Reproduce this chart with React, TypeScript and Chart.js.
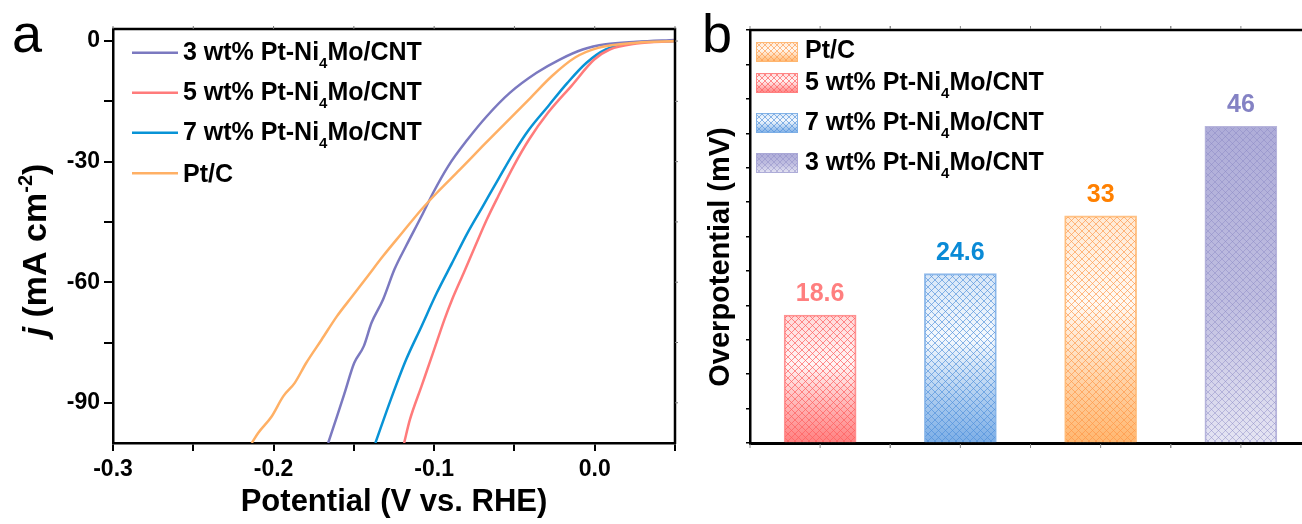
import React, { useEffect, useRef } from "react";
import { Chart, registerables } from "chart.js";

Chart.register(...registerables);

const FONT = "'Liberation Sans', Arial, Helvetica, sans-serif";

// ---------------- Panel a: polarization curves ----------------
const seriesLabels = ["3 wt% Pt-Ni4Mo/CNT", "5 wt% Pt-Ni4Mo/CNT", "7 wt% Pt-Ni4Mo/CNT", "Pt/C"];

const potential3wt = [-0.166, -0.1605, -0.1558, -0.1498, -0.1438, -0.139, -0.1318, -0.1247, -0.1175, -0.1079, -0.1007, -0.0912, -0.0792, -0.0672, -0.0529, -0.0362, -0.0218, -0.0075, 0.0069, 0.026, 0.05];
const current3wt = [-100, -93.4, -87.6, -80.1, -75.9, -70.1, -64.3, -56.8, -51.0, -43.6, -37.8, -31.1, -24.5, -18.7, -12.9, -7.9, -4.6, -2.1, -0.8, -0.2, 0.25];

const potential5wt = [-0.1187, -0.1151, -0.1079, -0.1007, -0.0936, -0.0888, -0.0816, -0.0744, -0.0672, -0.0601, -0.0505, -0.0409, -0.029, -0.0146, -0.0003, 0.0093, 0.026, 0.05];
const current5wt = [-100, -94.2, -85.9, -77.6, -69.3, -64.3, -57.7, -51.0, -44.4, -38.6, -31.1, -24.5, -17.8, -11.2, -4.6, -2.1, -0.6, 0];

const potential7wt = [-0.1366, -0.127, -0.1175, -0.1079, -0.0984, -0.0888, -0.0792, -0.0697, -0.0601, -0.0505, -0.0409, -0.029, -0.017, -0.0051, 0.0069, 0.026, 0.05];
const current7wt = [-100, -89.2, -79.3, -71.0, -62.7, -55.2, -47.7, -41.1, -34.4, -27.8, -22.0, -16.2, -10.4, -5.4, -2.1, -0.4, 0];

const potentialPtC = [-0.2136, -0.2096, -0.2012, -0.194, -0.1869, -0.1797, -0.1701, -0.1606, -0.151, -0.1414, -0.1318, -0.1199, -0.1079, -0.0984, -0.084, -0.0697, -0.0553, -0.0409, -0.0266, -0.0122, 0.0021, 0.026, 0.05];
const currentPtC = [-100, -97.5, -93.4, -88.4, -85.1, -80.1, -74.3, -68.5, -63.5, -58.5, -53.5, -47.7, -41.9, -37.8, -32.0, -26.1, -20.3, -14.5, -8.7, -4.1, -1.7, -0.4, 0];

const xTicksA = [-0.3, -0.25, -0.2, -0.15, -0.1, -0.05, 0, 0.05];
const xTickLabelsA = ["-0.3", "", "-0.2", "", "-0.1", "", "0.0", ""];
const yTicksA = [-90, -75, -60, -45, -30, -15, 0];
const yTickLabelsA = ["-90", "", "-60", "", "-30", "", "0"];

// ---------------- Panel b: overpotential bars ----------------
const barCategories = ["5 wt% Pt-Ni4Mo/CNT", "7 wt% Pt-Ni4Mo/CNT", "Pt/C", "3 wt% Pt-Ni4Mo/CNT"];
const barValues = [18.6, 24.6, 33, 46];
const barValueLabels = ["18.6", "24.6", "33", "46"];
const legendOrderB = [2, 0, 1, 3];
const yTicksB = [0, 5, 10, 15, 20, 25, 30, 35, 40, 45, 50, 55, 60];

// ---------------- styles ----------------
const lineColors = ["#7b79c0", "#ff7b7b", "#0893d6", "#ffb065"];
const barRGB = [
  [255, 128, 128],
  [124, 174, 230],
  [255, 183, 112],
  [170, 168, 214],
];
const hatchColors = ["rgba(255,95,95,0.7)", "rgba(80,145,220,0.65)", "rgba(255,150,70,0.65)", "rgba(135,132,195,0.45)"];
const valueLabelColors = ["#ff7f7f", "#0a8ad6", "#ff8000", "#8482c4"];
const normalStops = [
  [0, 0.3],
  [0.38, 0.08],
  [0.75, 0.65],
  [1, 1],
];
const reversedStops = [
  [0, 0.95],
  [0.55, 0.75],
  [1, 0.3],
];

function rgba(c: number[], a: number) {
  return `rgba(${c[0]},${c[1]},${c[2]},${a})`;
}

function makeGradient(ctx: CanvasRenderingContext2D, i: number, yTop: number, yBot: number) {
  const g = ctx.createLinearGradient(0, yTop, 0, yBot);
  const stops = i === 3 ? reversedStops : normalStops;
  for (const [p, a] of stops) g.addColorStop(p, rgba(barRGB[i], a));
  return g;
}

function hatch(ctx: CanvasRenderingContext2D, x0: number, y0: number, w: number, h: number, color: string, step = 7) {
  ctx.save();
  ctx.beginPath();
  ctx.rect(x0, y0, w, h);
  ctx.clip();
  ctx.strokeStyle = color;
  ctx.lineWidth = 1;
  ctx.beginPath();
  let kmin = Math.floor((x0 - (y0 + h)) / step) * step;
  let kmax = x0 + w - y0;
  for (let k = kmin; k <= kmax; k += step) {
    ctx.moveTo(k + y0, y0);
    ctx.lineTo(k + y0 + h, y0 + h);
  }
  kmin = Math.floor((x0 + y0) / step) * step;
  kmax = x0 + w + y0 + h;
  for (let k = kmin; k <= kmax; k += step) {
    ctx.moveTo(k - y0, y0);
    ctx.lineTo(k - y0 - h, y0 + h);
  }
  ctx.stroke();
  ctx.restore();
}

type Part = { t: string; italic?: boolean; sub?: boolean; sup?: boolean };

function richParts(label: string): Part[] {
  const i = label.indexOf("Ni4");
  if (i < 0) return [{ t: label }];
  return [{ t: label.slice(0, i + 2) }, { t: "4", sub: true }, { t: label.slice(i + 3) }];
}

function fontFor(p: Part, size: number) {
  const s = p.sub || p.sup ? Math.round(size * 0.6) : size;
  return `${p.italic ? "italic " : ""}bold ${s}px ${FONT}`;
}

function drawRich(ctx: CanvasRenderingContext2D, parts: Part[], x: number, y: number, size: number, align: "left" | "center") {
  ctx.save();
  ctx.textAlign = "left";
  ctx.textBaseline = "alphabetic";
  const widths = parts.map((p) => {
    ctx.font = fontFor(p, size);
    return ctx.measureText(p.t).width;
  });
  const total = widths.reduce((a, b) => a + b, 0);
  let cx = align === "center" ? x - total / 2 : x;
  parts.forEach((p, i) => {
    ctx.font = fontFor(p, size);
    const dy = p.sub ? size * 0.3 : p.sup ? -size * 0.42 : 0;
    ctx.fillText(p.t, cx, y + dy);
    cx += widths[i];
  });
  ctx.restore();
}

// ---------------- plugins ----------------
const decorA = {
  id: "decorA",
  afterDraw(chart: any) {
    const ctx: CanvasRenderingContext2D = chart.ctx;
    const ca = chart.chartArea;
    ctx.save();
    // top & right frame
    ctx.strokeStyle = "#000";
    ctx.lineWidth = 2.5;
    ctx.beginPath();
    ctx.moveTo(ca.left - 1, ca.top);
    ctx.lineTo(ca.right, ca.top);
    ctx.lineTo(ca.right, ca.bottom + 1);
    ctx.stroke();
    // small mirror ticks
    ctx.strokeStyle = "#777";
    ctx.lineWidth = 1;
    ctx.beginPath();
    for (const v of xTicksA) {
      const px = chart.scales.x.getPixelForValue(v);
      ctx.moveTo(px, ca.top);
      ctx.lineTo(px, ca.top - 3);
    }
    for (const v of yTicksA) {
      const py = chart.scales.y.getPixelForValue(v);
      ctx.moveTo(ca.right, py);
      ctx.lineTo(ca.right + 3, py);
    }
    ctx.stroke();

    // legend
    const rowsLine = [52.7, 92.7, 132.7, 173.3];
    const rowsText = [60, 100, 140, 181.5];
    seriesLabels.forEach((lab, i) => {
      ctx.strokeStyle = lineColors[i];
      ctx.lineWidth = 2.6;
      ctx.beginPath();
      ctx.moveTo(132, rowsLine[i]);
      ctx.lineTo(178, rowsLine[i]);
      ctx.stroke();
      ctx.fillStyle = "#000";
      drawRich(ctx, richParts(lab), 183, rowsText[i], 25, "left");
    });

    // axis titles
    ctx.fillStyle = "#000";
    drawRich(ctx, [{ t: "Potential (V vs. RHE)" }], (ca.left + ca.right) / 2, 511, 31, "center");
    ctx.save();
    ctx.translate(34, 250);
    ctx.rotate(-Math.PI / 2);
    drawRich(ctx, [{ t: "j ", italic: true }, { t: "(mA cm" }, { t: "-2", sup: true }, { t: ")" }], 0, 12, 34, "center");
    ctx.restore();

    // panel letter
    ctx.font = `54px ${FONT}`;
    ctx.textAlign = "left";
    ctx.textBaseline = "alphabetic";
    ctx.fillText("a", 12, 52);
    ctx.restore();
  },
};

const decorB = {
  id: "decorB",
  afterDatasetsDraw(chart: any) {
    const ctx: CanvasRenderingContext2D = chart.ctx;
    const meta = chart.getDatasetMeta(0);
    meta.data.forEach((el: any, i: number) => {
      const { x, y, base, width } = el.getProps(["x", "y", "base", "width"], true);
      hatch(ctx, x - width / 2 + 1, y + 1, width - 2, base - y - 1, hatchColors[i]);
      ctx.save();
      ctx.fillStyle = valueLabelColors[i];
      ctx.font = `bold 25px ${FONT}`;
      ctx.textAlign = "center";
      ctx.textBaseline = "middle";
      ctx.fillText(barValueLabels[i], x, y - 21);
      ctx.restore();
    });
  },
  afterDraw(chart: any) {
    const ctx: CanvasRenderingContext2D = chart.ctx;
    const ca = chart.chartArea;
    const xs = chart.scales.x;
    ctx.save();
    ctx.strokeStyle = "#000";
    ctx.lineWidth = 2.5;
    ctx.beginPath();
    ctx.moveTo(ca.left - 1, ca.top);
    ctx.lineTo(ca.right, ca.top);
    ctx.lineTo(ca.right, ca.bottom);
    ctx.stroke();

    // small category ticks (centres and boundaries)
    const half = (xs.getPixelForValue(1) - xs.getPixelForValue(0)) / 2;
    ctx.strokeStyle = "#888";
    ctx.lineWidth = 1;
    ctx.beginPath();
    barCategories.forEach((_, i) => {
      const c = xs.getPixelForValue(i);
      for (const px of [c - half, c, c + half]) {
        ctx.moveTo(px, ca.bottom + 1);
        ctx.lineTo(px, ca.bottom + 5);
        ctx.moveTo(px, ca.top - 1);
        ctx.lineTo(px, ca.top - 4);
      }
    });
    ctx.stroke();

    // legend
    const boxTop = [42, 73, 113, 153];
    const textBase = [58, 90, 130, 170];
    legendOrderB.forEach((bi, r) => {
      const bx = 66, bw = 42, bh = 20, by = boxTop[r];
      ctx.fillStyle = makeGradient(ctx, bi, by, by + bh);
      ctx.fillRect(bx, by, bw, bh);
      hatch(ctx, bx, by, bw, bh, hatchColors[bi], 6);
      ctx.strokeStyle = rgba(barRGB[bi], 0.9);
      ctx.lineWidth = 1;
      ctx.strokeRect(bx + 0.5, by + 0.5, bw - 1, bh - 1);
      ctx.fillStyle = "#000";
      drawRich(ctx, richParts(barCategories[bi]), 115, textBase[r], 25, "left");
    });

    // y title
    ctx.save();
    ctx.fillStyle = "#000";
    ctx.translate(28, 257);
    ctx.rotate(-Math.PI / 2);
    drawRich(ctx, [{ t: "Overpotential (mV)" }], 0, 11, 29, "center");
    ctx.restore();

    ctx.fillStyle = "#000";
    ctx.font = `54px ${FONT}`;
    ctx.textAlign = "left";
    ctx.textBaseline = "alphabetic";
    ctx.fillText("b", 12, 52);
    ctx.restore();
  },
};

export default function App() {
  const refA = useRef<HTMLCanvasElement>(null);
  const refB = useRef<HTMLCanvasElement>(null);

  useEffect(() => {
    const potentials = [potential3wt, potential5wt, potential7wt, potentialPtC];
    const currents = [current3wt, current5wt, current7wt, currentPtC];
    const tickFont = { family: FONT, size: 23, weight: "bold" as const };

    const chartA = new Chart(refA.current as HTMLCanvasElement, {
      type: "scatter",
      data: {
        datasets: seriesLabels.map((lab, i) => ({
          label: lab,
          data: potentials[i].map((x, k) => ({ x, y: currents[i][k] })),
          borderColor: lineColors[i],
          backgroundColor: lineColors[i],
          showLine: true,
          pointRadius: 0,
          borderWidth: 2.5,
          cubicInterpolationMode: "monotone" as const,
          fill: false,
          order: i === 3 ? 0 : 1,
        })),
      },
      options: {
        responsive: false,
        animation: false,
        devicePixelRatio: 1,
        layout: { padding: { left: 0, right: 15, top: 29, bottom: 0 } },
        plugins: { legend: { display: false }, tooltip: { enabled: false } },
        scales: {
          x: {
            type: "linear",
            min: -0.3,
            max: 0.05,
            afterBuildTicks: (s: any) => {
              s.ticks = xTicksA.map((v) => ({ value: v }));
            },
            afterFit: (s: any) => {
              s.height = 81;
            },
            ticks: {
              autoSkip: false,
              maxRotation: 0,
              padding: 5,
              color: "#000",
              font: tickFont,
              callback: (_v: any, i: number) => xTickLabelsA[i],
            },
            grid: { display: true, drawOnChartArea: false, drawTicks: true, tickLength: 8, color: "#000", lineWidth: 2 },
            border: { display: true, color: "#000", width: 2.5 },
          },
          y: {
            type: "linear",
            min: -100,
            max: 3,
            afterBuildTicks: (s: any) => {
              s.ticks = yTicksA.map((v) => ({ value: v }));
            },
            afterFit: (s: any) => {
              s.width = 113;
            },
            ticks: {
              autoSkip: false,
              padding: 4,
              color: "#000",
              font: tickFont,
              callback: (_v: any, i: number) => yTickLabelsA[i],
            },
            grid: { display: true, drawOnChartArea: false, drawTicks: true, tickLength: 9, color: "#000", lineWidth: 2 },
            border: { display: true, color: "#000", width: 2.5 },
          },
        },
      },
      plugins: [decorA],
    } as any);

    const chartB = new Chart(refB.current as HTMLCanvasElement, {
      type: "bar",
      data: {
        labels: barCategories,
        datasets: [
          {
            data: barValues,
            backgroundColor: (c: any) => {
              const chart = c.chart;
              if (c.dataIndex === undefined || !chart.chartArea) return rgba(barRGB[0], 0.5);
              const ys = chart.scales.y;
              return makeGradient(chart.ctx, c.dataIndex, ys.getPixelForValue(barValues[c.dataIndex]), ys.getPixelForValue(0));
            },
            borderColor: barRGB.map((c) => rgba(c, 0.85)),
            borderWidth: 1.2,
            borderSkipped: "bottom",
            barThickness: 72,
          },
        ],
      },
      options: {
        responsive: false,
        animation: false,
        devicePixelRatio: 1,
        layout: { padding: { left: 0, right: 19, top: 30, bottom: 0 } },
        plugins: { legend: { display: false }, tooltip: { enabled: false } },
        scales: {
          x: {
            offset: true,
            afterFit: (s: any) => {
              s.height = 81;
            },
            ticks: { display: false },
            grid: { display: false },
            border: { display: true, color: "#000", width: 3 },
          },
          y: {
            min: 0,
            max: 60,
            afterBuildTicks: (s: any) => {
              s.ticks = yTicksB.map((v) => ({ value: v }));
            },
            afterFit: (s: any) => {
              s.width = 60;
            },
            ticks: { display: false },
            grid: { display: true, drawOnChartArea: false, drawTicks: true, tickLength: 4, color: "#000", lineWidth: 1.5 },
            border: { display: true, color: "#000", width: 2.5 },
          },
        },
      },
      plugins: [decorB],
    } as any);

    return () => {
      chartA.destroy();
      chartB.destroy();
    };
  }, []);

  return (
    <div style={{ position: "fixed", left: 0, top: 0, width: 1302, height: 524, overflow: "hidden", background: "#fff" }}>
      <canvas ref={refA} width={690} height={524} style={{ position: "absolute", left: 0, top: 0, width: 690, height: 524 }} />
      <canvas ref={refB} width={640} height={524} style={{ position: "absolute", left: 690, top: 0, width: 640, height: 524 }} />
    </div>
  );
}
